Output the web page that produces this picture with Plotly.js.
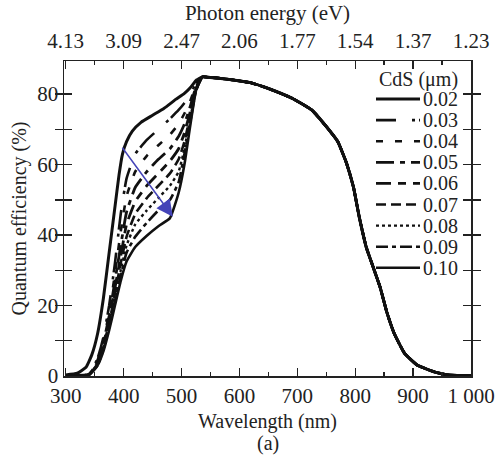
<!DOCTYPE html>
<html>
<head>
<meta charset="utf-8">
<script src="https://cdn.plot.ly/plotly-3.0.1.min.js"></script>
<style>html,body{margin:0;padding:0;background:#fff;}#chart{width:504px;height:457px;}</style>
</head>
<body>
<div id="chart"></div>
<script>
// Shared long-wavelength part (all CdS thicknesses coincide above ~540 nm)
const lamTail = [545, 560, 590, 620, 650, 690, 725, 755, 770, 785, 797, 807, 819, 831, 843, 855, 867, 885, 907, 938, 960, 1000];
const qeTail  = [84.8, 84.6, 84.0, 83.2, 81.6, 78.9, 75.5, 69.8, 66.5, 60.4, 53.6, 45.1, 36.6, 30.9, 25.2, 17.9, 12.2, 6.5, 3.1, 1.1, 0.3, 0.1];

// 0.02 um curve (short-wavelength part)
const lam02 = [300, 320, 335, 345, 355, 365, 375, 385, 392, 398, 405, 415, 430, 450, 470, 490, 505, 515, 526, 536];
const qe02  = [0.3, 0.8, 2.5, 6.0, 12.0, 22.0, 35.0, 48.0, 57.0, 63.0, 66.5, 69.5, 72.0, 74.0, 76.0, 78.5, 80.2, 81.8, 84.0, 84.9];

// 0.03 - 0.10 um curves (short-wavelength part)
const lamBand = [300, 340, 355, 365, 375, 385, 395, 405, 420, 440, 460, 480, 495, 505, 515, 525, 536];
const qe03 = [0.2, 0.5, 5.0, 11.0, 20.0, 32.0, 46.0, 56.0, 63.0, 67.0, 70.0, 73.0, 75.5, 77.5, 80.0, 83.0, 84.9];
const qe04 = [0.2, 0.5, 4.5, 10.0, 18.0, 29.0, 41.0, 51.0, 58.0, 62.5, 65.5, 68.5, 71.5, 74.5, 78.0, 82.5, 84.9];
const qe05 = [0.2, 0.4, 4.0, 9.5, 17.0, 27.0, 37.0, 46.5, 53.5, 58.0, 61.5, 64.5, 68.0, 71.5, 76.5, 82.0, 84.9];
const qe06 = [0.2, 0.4, 4.0, 9.0, 16.0, 25.0, 34.0, 43.0, 49.5, 54.0, 57.5, 61.0, 64.5, 69.0, 75.0, 81.5, 84.9];
const qe07 = [0.1, 0.4, 3.5, 8.5, 15.0, 23.5, 32.0, 39.5, 46.0, 50.5, 54.0, 57.5, 61.5, 66.5, 74.0, 81.5, 84.9];
const qe08 = [0.1, 0.3, 3.5, 8.0, 14.5, 22.0, 30.0, 37.0, 43.0, 47.0, 50.5, 54.0, 58.0, 64.5, 73.0, 81.0, 84.9];
const qe09 = [0.1, 0.3, 3.0, 7.5, 14.0, 21.0, 28.5, 35.0, 39.5, 43.5, 47.0, 50.0, 55.0, 63.0, 72.0, 81.0, 84.9];
const qe10 = [0.1, 0.3, 3.0, 7.0, 13.0, 20.0, 27.0, 32.5, 36.6, 39.8, 42.5, 44.8, 52.0, 60.0, 71.0, 81.0, 84.9];

const seriesNames = ['0.02', '0.03', '0.04', '0.05', '0.06', '0.07', '0.08', '0.09', '0.10'];

// Bottom / top axis ticks
const wlTicks = [300, 400, 500, 600, 700, 800, 900, 1000];
const wlLabels = ['300', '400', '500', '600', '700', '800', '900', '1 000'];
const evLabels = ['4.13', '3.09', '2.47', '2.06', '1.77', '1.54', '1.37', '1.23'];
const qeTicks = [0, 10, 20, 30, 40, 50, 60, 70, 80];
const qeLabels = ['0', '', '20', '', '40', '', '60', '', '80'];

// Arrow (direction of increasing CdS thickness)
const arrowFrom = [396, 65.2];
const arrowTo = [485, 45.2];

const shortQE = [qe02, qe03, qe04, qe05, qe06, qe07, qe08, qe09, qe10];
const shortLam = [lam02, lamBand, lamBand, lamBand, lamBand, lamBand, lamBand, lamBand, lamBand];
const styles = [
  {width: 3.0, dash: 'solid'},
  {width: 2.6, dash: '20px,16px,3px,4px'},
  {width: 2.6, dash: '7px,12px'},
  {width: 2.8, dash: '18px,6px,5px,6px'},
  {width: 2.8, dash: '15px,7px,8px,7px'},
  {width: 2.6, dash: '10px,5px'},
  {width: 2.4, dash: '3px,3px'},
  {width: 2.6, dash: '12px,4px,4px,4px'},
  {width: 2.6, dash: 'solid'}
];

const traces = seriesNames.map((n, i) => ({
  type: 'scatter', mode: 'lines', name: n,
  x: shortLam[i].concat(lamTail),
  y: shortQE[i].concat(qeTail),
  line: {color: '#111', width: styles[i].width, dash: styles[i].dash, shape: 'spline', smoothing: 0.4},
  showlegend: false,
  hoverinfo: 'x+y+name'
}));

// helper trace so the top axis is drawn
traces.push({type: 'scatter', mode: 'lines', x: [wlTicks[0], wlTicks[wlTicks.length-1]], y: [0, 0],
  xaxis: 'x2', yaxis: 'y', line: {width: 0}, showlegend: false, hoverinfo: 'skip'});

const FONT = 'Liberation Serif';
const TXT = '#222';
const TICK = 21, LEG = 20;

// Legend drawn as line samples + labels (paper coords)
const plotBot = 376, plotL = 64, plotW = 407, plotH = 315;
const px2x = px => (px - plotL) / plotW;
const py2y = py => (plotBot - py) / plotH;
const legTop = 99, legStep = 21.1;
const shapes = [];
const annotations = [];
seriesNames.forEach((n, i) => {
  const py = legTop + i * legStep;
  shapes.push({type: 'line', xref: 'paper', yref: 'paper',
    x0: px2x(376), x1: px2x(420), y0: py2y(py), y1: py2y(py),
    line: {color: '#111', width: styles[i].width, dash: styles[i].dash}});
  annotations.push({xref: 'paper', yref: 'paper', x: px2x(421), y: py2y(py), xanchor: 'left', yanchor: 'middle',
    text: n, showarrow: false, font: {family: FONT, size: LEG, color: TXT}});
});
annotations.push({xref: 'paper', yref: 'paper', x: px2x(418), y: py2y(79), xanchor: 'center', yanchor: 'middle',
  text: 'CdS (μm)', showarrow: false, font: {family: FONT, size: LEG, color: TXT}});
annotations.push({x: arrowTo[0], y: arrowTo[1], ax: arrowFrom[0], ay: arrowFrom[1],
  xref: 'x', yref: 'y', axref: 'x', ayref: 'y', text: '', showarrow: true,
  arrowhead: 2, arrowsize: 2.2, arrowwidth: 1.5, arrowcolor: '#4444b8'});
annotations.push({x: 0.5, y: py2y(443), xref: 'paper', yref: 'paper', yanchor: 'middle', text: '(a)', showarrow: false,
  font: {family: FONT, size: 20, color: TXT}});

const layout = {
  width: 504, height: 457,
  margin: {l: 64, r: 33, t: 61, b: 81},
  paper_bgcolor: '#fff', plot_bgcolor: '#fff',
  font: {family: FONT, size: TICK, color: TXT},
  showlegend: false,
  xaxis: {
    range: [297, 1000], tickvals: wlTicks, ticktext: wlLabels,
    ticks: 'inside', ticklen: 8, tickwidth: 1.4, tickcolor: TXT,
    minor: {dtick: 50, tick0: 300, ticks: 'inside', ticklen: 4, tickwidth: 1.4, tickcolor: TXT},
    showline: true, linecolor: TXT, linewidth: 1.5,
    showgrid: false, zeroline: false,
    tickfont: {family: FONT, size: TICK, color: TXT},
    title: {text: 'Wavelength (nm)', standoff: 7, font: {family: FONT, size: 20, color: TXT}}
  },
  xaxis2: {
    overlaying: 'x', side: 'top', anchor: 'y',
    range: [297, 1000], tickvals: wlTicks, ticktext: evLabels,
    ticks: 'inside', ticklen: 8, tickwidth: 1.4, tickcolor: TXT,
    minor: {dtick: 50, tick0: 300, ticks: 'inside', ticklen: 4, tickwidth: 1.4, tickcolor: TXT},
    showline: true, linecolor: TXT, linewidth: 1.5,
    showgrid: false, zeroline: false, ticklabelstandoff: 3,
    tickfont: {family: FONT, size: TICK, color: TXT},
    title: {text: 'Photon energy (eV)', standoff: 2, font: {family: FONT, size: 21, color: TXT}}
  },
  yaxis: {
    range: [0, 89.4], tickvals: qeTicks, ticktext: qeLabels,
    ticks: 'inside', ticklen: 8, tickwidth: 1.4, tickcolor: TXT,
    showline: true, mirror: 'allticks', linecolor: TXT, linewidth: 1.5,
    showgrid: false, zeroline: false,
    tickfont: {family: FONT, size: TICK, color: TXT},
    title: {text: 'Quantum efficiency (%)', standoff: 5, font: {family: FONT, size: 20, color: TXT}}
  },
  shapes: shapes,
  annotations: annotations
};

Plotly.newPlot('chart', traces, layout, {displayModeBar: false, staticPlot: true});
</script>
</body>
</html>
